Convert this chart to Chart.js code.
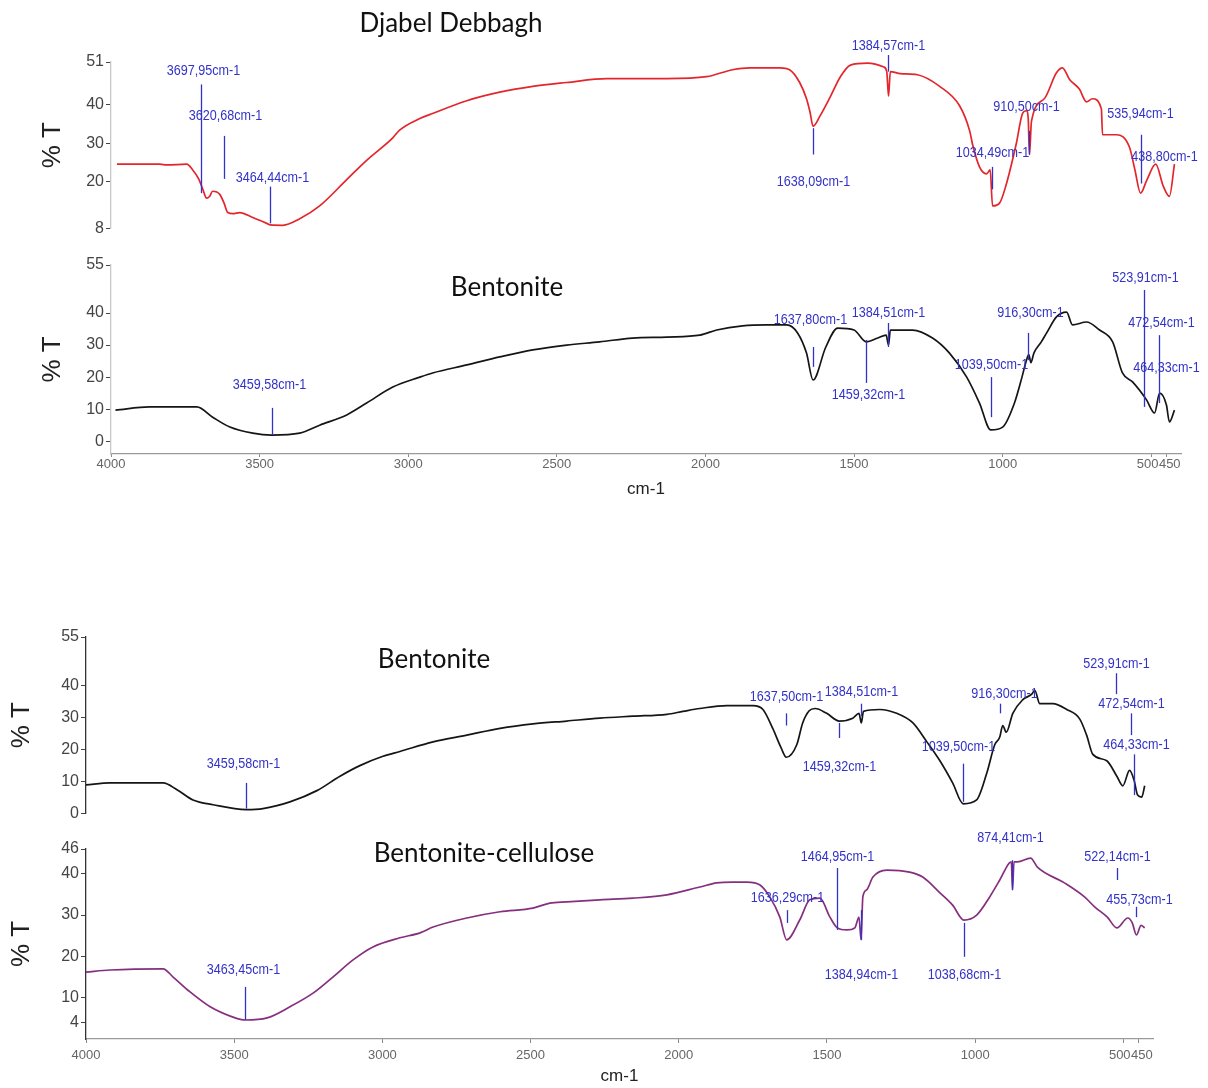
<!DOCTYPE html>
<html>
<head>
<meta charset="utf-8">
<script src="https://cdn.jsdelivr.net/npm/chart.js@4.4.1/dist/chart.umd.min.js"></script>
<style>
  html, body { margin: 0; padding: 0; background: #fff; }
  #page { position: relative; width: 1208px; height: 1088px; overflow: hidden; background: #fff; }
  #page canvas { position: absolute; left: 0; }
  .name { position: absolute; font-family: Lato, "Open Sans", sans-serif; font-size: 26px; line-height: 26px;
          color: #111; white-space: nowrap; transform: translateX(-50%); z-index: 2; }
</style>
</head>
<body>
<div id="page">
  <canvas id="c1" width="1208" height="240" style="top:0px"></canvas>
  <canvas id="c2" width="1208" height="260" style="top:240px"></canvas>
  <canvas id="c3" width="1208" height="205" style="top:620px"></canvas>
  <canvas id="c4" width="1208" height="262" style="top:825px"></canvas>
  <div class="name" style="left:451px; top:9px">Djabel Debbagh</div>
  <div class="name" style="left:507px; top:273px">Bentonite</div>
  <div class="name" style="left:434px; top:645px">Bentonite</div>
  <div class="name" style="left:484px; top:839px">Bentonite-cellulose</div>
</div>
<script>
// ---- Spectra: wavenumber (cm-1) and transmittance (%T) ----
const djabelWn = [3980, 3836, 3812, 3745, 3725, 3705, 3692, 3678, 3668, 3658, 3634, 3620, 3607, 3590, 3567, 3523, 3476, 3464, 3422, 3365, 3298, 3207, 3140, 3052, 3029, 2961, 2918, 2803, 2692, 2581, 2467, 2332, 2130, 1996, 1909, 1851, 1750, 1717, 1683, 1660, 1648, 1638, 1615, 1580, 1546, 1512, 1455, 1400, 1390, 1384, 1378, 1344, 1287, 1212, 1145, 1111, 1101, 1078, 1054, 1042, 1034, 1010, 990, 955, 933, 920, 914, 910, 903, 860, 819, 799, 775, 742, 718, 698, 668, 664, 617, 573, 555, 536, 515, 485, 460, 439, 422];
const djabelT  = [24.6, 24.6, 24.4, 24.6, 23.1, 20.8, 18.3, 15.8, 16.3, 17.6, 16.8, 14.6, 12.1, 11.8, 12.1, 10.8, 9.3, 8.9, 8.8, 10.5, 13.8, 20.6, 25.6, 31.4, 33.4, 36.4, 37.7, 41.0, 43.2, 44.7, 45.7, 46.7, 46.7, 47.2, 49.0, 49.5, 49.5, 49.0, 45.7, 41.5, 38.0, 34.4, 37.0, 42.0, 47.2, 50.2, 50.7, 49.7, 48.5, 42.2, 48.5, 48.0, 47.7, 44.7, 39.7, 33.2, 29.6, 23.9, 22.1, 23.1, 13.8, 14.6, 18.8, 29.6, 37.7, 38.4, 36.4, 27.1, 35.7, 41.5, 48.2, 49.5, 46.5, 44.0, 40.7, 41.5, 38.9, 32.2, 32.2, 28.9, 23.1, 17.1, 20.5, 24.6, 19.0, 16.3, 24.6];

const bentWn = [3985, 3870, 3711, 3658, 3600, 3523, 3460, 3365, 3298, 3207, 3140, 3052, 2961, 2918, 2803, 2692, 2581, 2467, 2356, 2245, 2130, 2019, 1962, 1875, 1794, 1727, 1690, 1660, 1638, 1595, 1555, 1500, 1459, 1420, 1392, 1384, 1378, 1303, 1236, 1179, 1121, 1078, 1040, 1000, 960, 935, 920, 912, 905, 895, 870, 852, 819, 785, 765, 718, 674, 630, 597, 563, 516, 489, 472, 449, 439, 422];
const bentT  = [9.7, 10.7, 10.7, 7.5, 4.4, 2.5, 1.9, 2.5, 5.0, 8.2, 11.9, 16.9, 20.0, 21.3, 23.8, 26.3, 28.5, 30.0, 31.0, 32.2, 32.5, 33.1, 34.7, 36.0, 36.3, 36.3, 33.8, 27.5, 19.1, 29.4, 35.3, 34.7, 31.0, 32.2, 33.1, 30.0, 34.7, 34.7, 32.2, 27.5, 20.0, 11.9, 3.5, 4.4, 12.0, 20.0, 25.3, 27.0, 24.5, 27.5, 31.0, 33.8, 38.8, 40.3, 36.3, 37.2, 34.7, 31.0, 21.3, 18.5, 12.9, 8.8, 15.0, 11.3, 6.0, 9.7];

const bent2Wn = [4000, 3919, 3740, 3693, 3639, 3571, 3460, 3403, 3312, 3221, 3143, 3076, 2998, 2941, 2829, 2715, 2603, 2492, 2378, 2266, 2155, 2040, 1986, 1929, 1838, 1750, 1716, 1683, 1655, 1637, 1602, 1582, 1560, 1540, 1501, 1459, 1413, 1392, 1384, 1377, 1322, 1265, 1210, 1163, 1119, 1076, 1040, 995, 961, 934, 917, 907, 895, 873, 840, 809, 799, 782, 738, 691, 647, 624, 603, 556, 522, 502, 479, 464, 452, 438, 428];
const bent2T  = [8.9, 9.5, 9.5, 7.4, 4.2, 2.7, 1.2, 1.5, 3.6, 7.1, 11.6, 14.9, 17.8, 19.3, 22.3, 24.4, 26.5, 27.9, 28.8, 29.7, 30.3, 30.9, 31.8, 32.7, 33.6, 33.6, 32.4, 26.5, 20.5, 17.5, 21.4, 28.2, 32.0, 32.7, 31.2, 28.8, 29.7, 31.2, 28.2, 31.8, 32.4, 31.2, 28.2, 22.3, 16.4, 9.5, 3.0, 4.2, 12.5, 21.4, 23.8, 27.4, 25.3, 31.2, 35.4, 37.2, 38.4, 34.2, 34.2, 32.4, 29.4, 24.4, 18.4, 16.4, 11.6, 8.6, 13.4, 10.4, 5.7, 5.1, 8.6];

const bcWn = [4000, 3919, 3740, 3706, 3649, 3581, 3504, 3463, 3389, 3312, 3234, 3167, 3100, 3032, 2941, 2873, 2829, 2715, 2603, 2492, 2435, 2378, 2266, 2155, 2040, 1929, 1872, 1818, 1770, 1726, 1693, 1659, 1636, 1592, 1558, 1524, 1490, 1465, 1433, 1406, 1392, 1385, 1379, 1366, 1345, 1298, 1221, 1177, 1119, 1076, 1038, 995, 951, 917, 885, 878, 874, 869, 857, 813, 790, 699, 631, 597, 554, 522, 485, 470, 456, 440, 428];
const bcT  = [16.2, 16.7, 17.0, 15.0, 11.4, 7.8, 5.3, 4.6, 5.1, 7.8, 11.1, 15.0, 19.1, 22.3, 24.5, 25.7, 27.1, 29.3, 30.8, 31.7, 32.9, 33.2, 33.7, 34.1, 34.9, 36.8, 37.8, 38.0, 38.0, 37.3, 34.4, 29.5, 24.0, 28.8, 33.7, 34.1, 29.5, 26.9, 26.4, 26.9, 29.5, 24.0, 34.4, 36.1, 39.2, 40.9, 40.4, 39.2, 35.4, 32.4, 28.8, 30.0, 34.4, 38.5, 42.6, 42.9, 36.1, 42.9, 42.9, 43.8, 41.6, 37.8, 34.4, 32.0, 29.5, 26.9, 29.3, 28.1, 25.2, 27.5, 26.9];

// ---- Band positions picked on each spectrum (cm-1) ----
const djabelPeaks = [3697.95, 3620.68, 3464.44, 1638.09, 1384.57, 1034.49, 910.50, 535.94, 438.80];
const bentPeaks   = [3459.58, 1637.80, 1384.51, 1459.32, 1039.50, 916.30, 523.91, 472.54, 464.33];
const bent2Peaks  = [3459.58, 1637.50, 1384.51, 1459.32, 1039.50, 916.30, 523.91, 472.54, 464.33];
const bcPeaks     = [3463.45, 1636.29, 1464.95, 1384.94, 1038.68, 874.41, 522.14, 455.73];

// ---- Axis ticks ----
const xTickValues = [4000, 3500, 3000, 2500, 2000, 1500, 1000, 500, 450];
const djabelYTicks = [8, 20, 30, 40, 51];
const bentYTicks   = [0, 10, 20, 30, 40, 55];
const bcYTicks     = [4, 10, 20, 30, 40, 46];

// Where each band marker sits: [marker from %T, marker to %T, label at %T, label shift px]
const djabelMarks = [[45.2,17.1,48.7,2],[31.9,20.8,37.2,1],[18.8,9.3,21.1,2],[33.9,27.1,20.1,0],[52.8,48.5,55.3,0],[23.9,18.1,27.6,0],[33.2,27.1,39.4,-3],[32.2,19.6,37.7,-1],[null,null,26.4,-5]];
const bentMarks   = [[10.4,1.9,17.5,-3],[29.4,23.2,37.8,-3],[36.9,29.4,40.0,0],[31.6,18.2,14.4,2],[20.0,7.5,23.8,0],[33.8,25.3,40.0,2],[47.2,10.7,50.9,1],[33.1,11.9,36.9,2],[null,null,22.8,4]];
const bent2Marks  = [[9.5,1.5,15.5,-3],[31.2,27.4,36.3,0],[34.2,30.3,37.8,0],[28.2,23.5,14.6,0],[15.5,3.6,20.8,-5],[34.2,31.2,37.2,4],[43.7,37.2,46.7,0],[31.2,24.4,34.2,0],[18.4,5.7,21.4,2]];
const bcMarks     = [[12.6,4.6,16.7,-2],[31.2,28.1,34.1,0],[41.4,26.4,44.1,0],[31.2,24.0,15.5,0],[28.1,19.9,15.5,0],[43.3,36.1,48.7,-2],[41.4,38.5,44.1,0],[32.0,29.5,33.7,3]];

const SANS = '"Liberation Sans", Arial, sans-serif';
const BLUE = '#3232c8';

const bandLabel = wn => wn.toFixed(2).replace('.', ',') + 'cm-1';

// Draws the picked-band markers and their wavenumber labels (condensed lettering)
const bandMarkers = {
  id: 'bandMarkers',
  afterDatasetsDraw(chart, args, opts) {
    const { ctx, scales: { x, y } } = chart;
    ctx.save();
    ctx.strokeStyle = BLUE;
    ctx.fillStyle = BLUE;
    ctx.lineWidth = 1.3;
    ctx.font = '15px ' + SANS;
    ctx.textAlign = 'center';
    ctx.textBaseline = 'middle';
    opts.peaks.forEach((wn, i) => {
      const [from, to, at, dx] = opts.marks[i];
      const px = Math.round(x.getPixelForValue(wn)) + 0.5;
      if (from !== null) {
        ctx.beginPath();
        ctx.moveTo(px, y.getPixelForValue(from));
        ctx.lineTo(px, y.getPixelForValue(to));
        ctx.stroke();
      }
      const tx = px + dx, ty = y.getPixelForValue(at);
      ctx.save();
      ctx.translate(tx, ty);
      ctx.scale(0.84, 1);
      ctx.fillText(bandLabel(wn), 0, 0);
      ctx.restore();
    });
    ctx.restore();
  }
};

function panel(id, cfg) {
  const points = cfg.wn.map((w, i) => ({ x: w, y: cfg.t[i] }));
  return new Chart(document.getElementById(id), {
    type: 'line',
    data: { datasets: [{ data: points, borderColor: cfg.color, borderWidth: 1.7, pointRadius: 0,
                         cubicInterpolationMode: 'monotone', fill: false }] },
    plugins: [bandMarkers],
    options: {
      responsive: false,
      animation: false,
      devicePixelRatio: 1,
      layout: { padding: cfg.padding },
      plugins: {
        legend: { display: false },
        tooltip: { enabled: false },
        bandMarkers: { peaks: cfg.peaks, marks: cfg.marks }
      },
      scales: {
        x: {
          type: 'linear', reverse: true, min: 400, max: 4000,
          display: cfg.showX,
          afterBuildTicks: s => { s.ticks = xTickValues.map(v => ({ value: v })); },
          afterFit: s => { s.height = cfg.xHeight || s.height; },
          ticks: {
            autoSkip: false, maxRotation: 0, padding: cfg.xTickPad,
            font: { family: SANS, size: 13 }, color: '#666',
            callback: v => v === 500 ? '500  ' : (v === 450 ? '  450' : String(v))
          },
          grid: { display: true, drawOnChartArea: false, drawTicks: true, tickLength: cfg.xTickLen, color: '#888' },
          border: { display: true, color: '#9a9a9a', width: 1.2 },
          title: { display: true, text: 'cm-1', font: { family: SANS, size: 17 }, color: '#222', padding: 0 }
        },
        y: {
          type: 'linear', min: cfg.yMin, max: cfg.yMax,
          afterBuildTicks: s => { s.ticks = cfg.yTicks.map(v => ({ value: v })); },
          afterFit: s => { s.width = cfg.yWidth; },
          ticks: { autoSkip: false, padding: 2, font: { family: SANS, size: 16 }, color: '#444' },
          grid: { display: true, drawOnChartArea: false, drawTicks: true, tickLength: 5, color: '#444' },
          border: { display: true, color: cfg.yLine, width: 1.3 },
          title: { display: true, text: '% T', font: { family: SANS, size: 26 }, color: '#222', padding: 0 }
        }
      }
    }
  });
}

panel('c1', {
  wn: djabelWn, t: djabelT, color: '#e3262c', peaks: djabelPeaks, marks: djabelMarks,
  yMin: 8, yMax: 51, yTicks: djabelYTicks, yWidth: 74, yLine: '#c8c8c8',
  showX: false, padding: { top: 62, bottom: 7, left: 37, right: 27 }
});
panel('c2', {
  wn: bentWn, t: bentT, color: '#151515', peaks: bentPeaks, marks: bentMarks,
  yMin: -4, yMax: 55, yTicks: bentYTicks, yWidth: 74, yLine: '#c8c8c8',
  showX: true, xHeight: 46, xTickLen: 3, xTickPad: 0,
  padding: { top: 25, bottom: 0, left: 37, right: 27 }
});
panel('c3', {
  wn: bent2Wn, t: bent2T, color: '#151515', peaks: bent2Peaks, marks: bent2Marks,
  yMin: 0, yMax: 55, yTicks: bentYTicks, yWidth: 80, yLine: '#333',
  showX: false, padding: { top: 17, bottom: 3, left: 6, right: 55 }
});
panel('c4', {
  wn: bcWn, t: bcT, color: '#85307f', peaks: bcPeaks, marks: bcMarks,
  yMin: 0, yMax: 46, yTicks: bcYTicks, yWidth: 80, yLine: '#333',
  showX: true, xHeight: 48, xTickLen: 4, xTickPad: 5,
  padding: { top: 24, bottom: 0, left: 6, right: 55 }
});
</script>
</body>
</html>
